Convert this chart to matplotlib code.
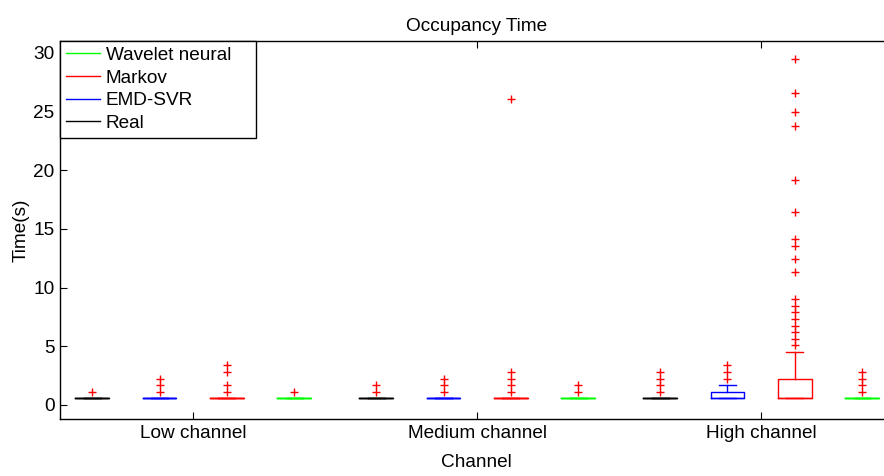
import matplotlib
matplotlib.use("Agg")
import matplotlib.pyplot as plt
from matplotlib.lines import Line2D
import numpy as np

plt.rcParams['font.family'] = ['Liberation Sans', 'DejaVu Sans']
FS = 13.7
plt.rcParams['font.size'] = FS

channels = ['Low channel', 'Medium channel', 'High channel']
methods = ['Real', 'EMD-SVR', 'Markov', 'Wavelet neural']
method_colors = ['#000000', '#0000ff', '#ff0000', '#00ff00']
legend_order = ['Wavelet neural', 'Markov', 'EMD-SVR', 'Real']

# box statistics, ordered channel by channel, method by method
medians = [0.56, 0.56, 0.56, 0.56,
           0.56, 0.56, 0.56, 0.56,
           0.56, 0.56, 0.56, 0.56]
q1 = [0.56, 0.56, 0.56, 0.56,
      0.56, 0.56, 0.56, 0.56,
      0.56, 0.56, 0.56, 0.56]
q3 = [0.56, 0.56, 0.56, 0.56,
      0.56, 0.56, 0.56, 0.56,
      0.56, 1.12, 2.21, 0.56]
whisker_low = [0.56, 0.56, 0.56, 0.56,
               0.56, 0.56, 0.56, 0.56,
               0.56, 0.56, 0.56, 0.56]
whisker_high = [0.56, 0.56, 0.56, 0.56,
                0.56, 0.56, 0.56, 0.56,
                0.56, 1.68, 4.50, 0.56]
outliers = [
    [1.12],
    [1.12, 1.68, 2.22],
    [1.12, 1.66, 2.80, 3.40],
    [1.12],
    [1.12, 1.68],
    [1.12, 1.66, 2.20],
    [1.12, 1.66, 2.20, 2.82, 26.1],
    [1.12, 1.66],
    [1.10, 1.66, 2.24, 2.82],
    [2.20, 2.80, 3.40],
    [5.07, 5.62, 6.18, 6.74, 7.31, 7.88, 8.45, 9.04, 11.28, 12.4,
     13.55, 14.17, 16.4, 19.2, 23.75, 24.94, 26.6, 29.5],
    [1.10, 1.66, 2.22, 2.82],
]

W, H = 884, 476
ax_left, ax_right, ax_top, ax_bottom = 60, 893, 41, 419
fig = plt.figure(figsize=(W/100, H/100), dpi=100)
ax = fig.add_axes([ax_left/W, 1-ax_bottom/H, (ax_right-ax_left)/W, (ax_bottom-ax_top)/H])

group_gap = 1.22
positions = []
for g in range(len(channels)):
    for m in range(len(methods)):
        positions.append(1 + m + g * (len(methods) - 1 + group_gap))
positions = np.array(positions)

stats = []
for i in range(len(medians)):
    stats.append(dict(med=medians[i], q1=q1[i], q3=q3[i],
                      whislo=whisker_low[i], whishi=whisker_high[i],
                      fliers=outliers[i]))

for i, st in enumerate(stats):
    c = method_colors[i % len(methods)]
    ax.bxp([st], positions=[positions[i]], widths=0.5, capwidths=0.25,
           showfliers=True, manage_ticks=False,
           boxprops=dict(color=c, linewidth=1.0),
           medianprops=dict(color=c, linewidth=1.0),
           whiskerprops=dict(color=c, linewidth=1.0, linestyle='-'),
           capprops=dict(color=c, linewidth=1.0),
           flierprops=dict(marker='+', markeredgecolor='#ff0000',
                           markersize=6, markeredgewidth=1.0, linestyle='none'))

group_centers = [positions[g*4:(g+1)*4].mean() for g in range(len(channels))]
ax.set_xticks(group_centers)
ax.set_xticklabels(channels)
ax.set_yticks([0, 5, 10, 15, 20, 25, 30])
ax.set_xlim(0.52, 12.9)
ax.set_ylim(-1.2, 31.0)

ax.tick_params(direction='in', length=5, width=0.8, top=True, right=False,
               labelsize=FS, pad=4)
ax.spines['right'].set_visible(False)
for s in ['left', 'bottom', 'top']:
    ax.spines[s].set_linewidth(1.0)

ax.set_title('Occupancy Time', fontsize=FS, pad=7)
ax.set_xlabel('Channel', fontsize=FS, labelpad=9)
ax.set_ylabel('Time(s)', fontsize=FS, labelpad=2.5)

handles = []
for name in legend_order:
    c = method_colors[methods.index(name)]
    handles.append(Line2D([], [], color=c, linewidth=1.0, label=name))
leg_w = (256 - ax_left) / (ax_right - ax_left)
leg = ax.legend(handles=handles, loc='upper left', borderaxespad=0,
                bbox_to_anchor=(0, 1, leg_w, 0), mode='expand',
                fancybox=False, framealpha=1, edgecolor='black',
                handlelength=1.8, handletextpad=0.3, labelspacing=0.28,
                borderpad=0.3, fontsize=FS)
leg.get_frame().set_linewidth(1.0)

fig.savefig('out.png', dpi=100)
